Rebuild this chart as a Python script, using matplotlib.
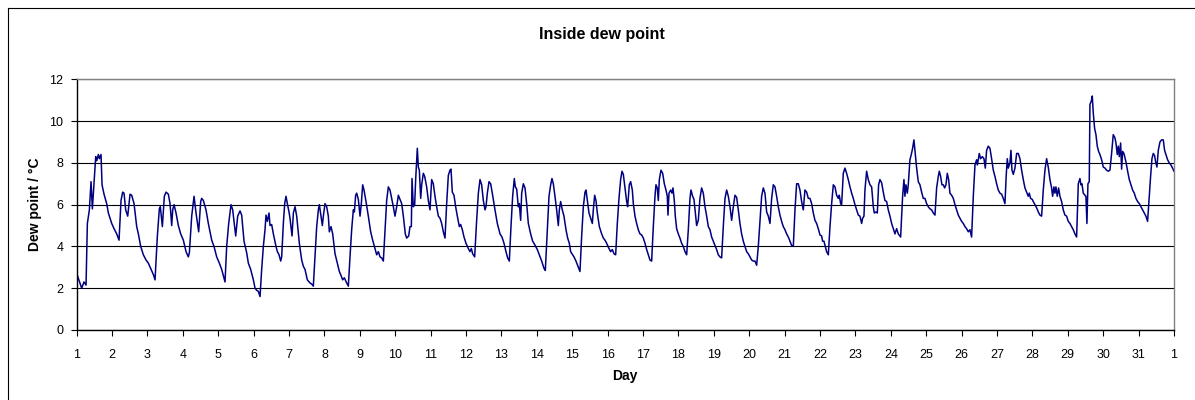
import matplotlib
matplotlib.use('Agg')
import matplotlib.pyplot as plt
from matplotlib.lines import Line2D

plt.rcParams['font.family'] = ['Liberation Sans', 'DejaVu Sans']

# elapsed time in days since the start of day 1
elapsed = [
    # days 1-5
    0.000,0.141,0.207,0.264,0.282,0.301,0.358,0.405,0.443,0.537,
    0.565,0.612,0.640,0.687,0.716,0.772,0.847,0.895,0.989,1.055,
    1.130,1.196,1.252,1.299,1.337,1.384,1.441,1.507,1.554,1.620,
    1.695,1.742,1.808,1.883,1.959,2.024,2.090,2.166,2.213,2.279,
    2.335,2.363,2.420,2.476,2.524,2.589,2.637,2.684,2.712,2.750,
    2.806,2.872,2.938,3.013,3.089,3.154,3.183,3.249,3.315,3.371,
    3.446,3.503,3.531,3.578,3.653,3.719,3.814,3.879,3.955,4.030,
    4.096,4.190,4.237,4.294,4.360,4.407,4.492,4.548,4.614,4.661,
    4.727,4.802,4.849,4.915,4.991,
    # days 6-10
    5.038,5.085,5.132,5.179,5.226,5.273,5.320,5.348,5.386,5.433,
    5.461,5.508,5.556,5.631,5.669,5.716,5.763,5.791,5.838,5.876,
    5.913,5.951,5.998,6.026,6.083,6.121,6.168,6.215,6.290,6.356,
    6.403,6.450,6.516,6.591,6.638,6.685,6.733,6.780,6.827,6.855,
    6.902,6.940,6.968,7.015,7.062,7.109,7.137,7.185,7.232,7.298,
    7.363,7.420,7.458,7.514,7.561,7.627,7.674,7.721,7.768,7.815,
    7.844,7.881,7.910,7.957,8.004,8.041,8.079,8.117,8.173,8.239,
    8.305,8.362,8.427,8.475,8.522,8.569,8.616,8.663,8.710,8.757,
    8.804,8.851,8.898,8.945,8.992,9.040,9.087,9.134,9.181,9.228,
    9.284,9.322,9.379,9.416,9.454,9.473,9.510,9.548,9.576,9.623,
    9.652,9.680,9.718,9.746,9.793,9.831,9.887,9.934,9.981,10.028,
    10.075,10.122,10.169,10.217,
    # days 11-15
    10.264,10.311,10.358,10.405,10.452,10.499,10.546,10.574,10.612,10.659,
    10.706,10.753,10.810,10.847,10.895,10.942,10.998,11.064,11.111,11.149,
    11.186,11.243,11.299,11.347,11.394,11.441,11.488,11.535,11.563,11.601,
    11.648,11.695,11.751,11.817,11.883,11.959,12.015,12.072,12.128,12.175,
    12.222,12.269,12.316,12.363,12.392,12.429,12.476,12.505,12.542,12.571,
    12.618,12.665,12.712,12.759,12.825,12.881,12.919,12.966,13.013,13.070,
    13.136,13.202,13.239,13.296,13.343,13.390,13.427,13.465,13.512,13.559,
    13.606,13.635,13.672,13.719,13.766,13.823,13.870,13.917,13.955,14.011,
    14.049,14.105,14.162,14.218,14.266,14.313,14.360,14.388,14.426,14.473,
    14.520,14.567,14.595,14.633,14.670,14.708,14.765,14.831,14.878,14.925,
    14.972,15.038,15.085,15.132,15.179,15.226,15.273,15.320,15.367,15.405,
    15.443,15.490,15.537,15.565,15.612,15.650,15.697,
    # days 16-21
    15.725,15.772,15.819,15.866,15.913,15.960,16.008,16.055,16.102,16.149,
    16.196,16.243,16.290,16.337,16.365,16.403,16.431,16.460,16.507,16.554,
    16.601,16.648,16.685,16.704,16.733,16.780,16.817,16.846,16.883,16.911,
    16.949,16.996,17.043,17.090,17.137,17.185,17.232,17.279,17.326,17.354,
    17.401,17.439,17.486,17.514,17.561,17.608,17.655,17.702,17.750,17.797,
    17.844,17.891,17.938,17.985,18.032,18.079,18.126,18.173,18.220,18.267,
    18.315,18.362,18.409,18.456,18.503,18.550,18.597,18.644,18.691,18.738,
    18.785,18.832,18.879,18.927,18.974,19.021,19.068,19.115,19.162,19.209,
    19.256,19.303,19.350,19.397,19.444,19.492,19.539,19.586,19.633,19.680,
    19.727,19.774,19.821,19.868,19.915,19.962,20.009,20.056,20.104,20.151,
    20.198,20.245,20.292,20.339,20.386,20.433,20.480,20.527,20.574,20.621,
    20.669,20.716,20.763,20.810,20.857,20.904,20.951,
    # days 22-26
    20.998,21.045,21.073,21.111,21.149,21.186,21.234,21.281,21.328,21.375,
    21.422,21.469,21.516,21.544,21.582,21.610,21.657,21.704,21.751,21.798,
    21.846,21.893,21.940,21.987,22.034,22.081,22.128,22.175,22.203,22.241,
    22.269,22.316,22.363,22.411,22.458,22.505,22.533,22.580,22.618,22.655,
    22.693,22.740,22.787,22.834,22.881,22.928,22.976,23.023,23.070,23.117,
    23.164,23.211,23.277,23.333,23.371,23.399,23.427,23.465,23.493,23.540,
    23.578,23.616,23.653,23.691,23.729,23.776,23.823,23.870,23.917,23.964,
    24.011,24.058,24.105,24.153,24.200,24.247,24.294,24.341,24.369,24.407,
    24.444,24.482,24.520,24.557,24.595,24.633,24.670,24.718,24.765,24.812,
    24.859,24.906,24.953,25.000,25.047,25.094,25.141,25.188,25.235,25.282,
    25.330,25.377,25.424,25.443,25.471,25.499,25.537,25.584,25.631,25.669,
    25.706,25.753,25.800,25.847,25.895,25.942,25.989,26.036,26.083,26.130,
    26.177,26.224,
    # days 27-31
    26.260,26.290,26.318,26.365,26.394,26.422,26.460,26.507,26.554,26.601,
    26.648,26.695,26.742,26.789,26.836,26.883,26.911,26.949,26.996,27.024,
    27.072,27.119,27.166,27.213,27.260,27.307,27.354,27.401,27.448,27.495,
    27.542,27.571,27.608,27.637,27.665,27.702,27.740,27.778,27.825,27.872,
    27.919,27.966,28.013,28.060,28.107,28.154,28.202,28.249,28.296,28.343,
    28.371,28.399,28.437,28.484,28.512,28.540,28.569,28.606,28.625,28.663,
    28.691,28.719,28.757,28.795,28.832,28.870,28.908,28.955,29.002,29.049,
    29.096,29.143,29.190,29.237,29.284,29.331,29.360,29.397,29.426,29.454,
    29.492,29.520,29.548,29.586,29.642,29.690,29.737,29.784,29.831,29.878,
    29.925,29.972,30.019,30.066,30.113,30.160,30.207,30.254,30.301,30.339,
    30.377,30.414,30.452,30.480,30.518,30.556,30.603,30.650,30.697,30.734,
    30.772,30.819,30.866,30.913,30.960,30.998,
]

# inside dew point, deg C
dew = [
    # days 1-5
    2.7,2.0,2.3,2.15,3.5,5.1,5.75,7.1,5.8,8.3,
    8.1,8.4,8.2,8.4,6.95,6.5,6.05,5.6,5.1,4.85,
    4.6,4.3,6.2,6.6,6.55,5.75,5.45,6.5,6.45,6.05,
    4.95,4.6,4.0,3.6,3.35,3.2,2.95,2.65,2.4,4.5,
    5.8,5.9,4.95,6.4,6.6,6.5,6.05,5.0,5.75,6.0,
    5.6,5.0,4.6,4.3,3.75,3.5,3.7,5.45,6.4,5.6,
    4.7,6.15,6.3,6.2,5.75,5.1,4.3,4.0,3.5,3.2,
    2.9,2.3,4.0,5.1,6.0,5.75,4.5,5.45,5.7,5.5,
    4.25,3.7,3.2,2.9,2.4,
    # days 6-10
    2.0,1.9,1.85,1.6,2.9,4.0,4.8,5.5,5.2,5.6,
    5.0,5.05,4.6,4.0,3.75,3.6,3.3,3.5,5.1,6.05,
    6.4,6.05,5.65,5.35,4.5,5.6,5.9,5.45,4.15,3.35,
    3.05,2.9,2.4,2.25,2.2,2.1,3.5,4.95,5.75,6.0,
    5.45,5.0,5.45,6.05,5.9,5.45,4.7,4.95,4.6,3.65,
    3.2,2.8,2.65,2.4,2.5,2.25,2.1,3.5,4.8,5.75,
    5.65,6.45,6.55,6.25,5.45,6.05,6.95,6.7,6.15,5.45,
    4.7,4.3,3.9,3.6,3.75,3.5,3.45,3.3,4.8,6.2,
    6.85,6.7,6.3,5.9,5.45,5.9,6.45,6.25,6.05,5.45,
    4.6,4.4,4.5,4.95,4.95,7.25,5.9,6.0,7.2,8.7,
    7.8,7.65,6.3,6.95,7.5,7.35,6.85,6.2,5.75,7.2,
    7.0,6.4,5.9,5.45,
    # days 11-15
    5.35,5.1,4.7,4.4,6.05,7.4,7.65,7.7,6.6,6.45,
    5.9,5.45,4.95,5.05,4.8,4.45,4.15,3.9,3.75,3.9,
    3.65,3.5,5.25,6.55,7.2,6.95,6.2,5.75,5.9,6.55,
    7.1,7.0,6.45,5.75,5.1,4.6,4.45,4.15,3.75,3.45,
    3.3,4.95,6.4,7.25,6.85,6.75,5.9,6.05,5.25,6.55,
    7.0,6.8,6.05,5.1,4.6,4.25,4.15,4.0,3.85,3.6,
    3.3,2.95,2.85,4.8,6.4,6.95,7.25,7.0,6.4,5.75,
    5.0,5.75,6.15,5.75,5.45,4.8,4.4,4.15,3.75,3.6,
    3.5,3.3,3.05,2.8,4.5,5.9,6.6,6.7,6.2,5.6,
    5.35,5.1,5.75,6.45,6.2,5.6,4.95,4.6,4.4,4.3,
    4.15,3.9,3.75,3.85,3.65,3.6,5.1,6.3,7.2,7.6,
    7.45,6.8,6.15,5.9,6.95,7.1,6.7,
    # days 16-21
    6.05,5.45,5.1,4.8,4.6,4.55,4.4,4.15,3.85,3.6,
    3.35,3.3,4.95,6.4,6.95,6.8,6.2,7.2,7.65,7.5,
    7.0,6.7,6.4,5.5,6.55,6.7,6.55,6.8,6.2,5.45,
    4.85,4.6,4.4,4.15,4.0,3.75,3.6,4.8,6.3,6.7,
    6.4,6.25,5.45,5.0,5.25,6.3,6.8,6.55,5.9,5.45,
    4.95,4.8,4.45,4.25,4.05,3.85,3.6,3.5,3.45,4.95,
    6.3,6.7,6.4,5.9,5.25,5.9,6.45,6.35,5.75,5.1,
    4.6,4.25,4.0,3.75,3.65,3.5,3.35,3.3,3.3,3.1,
    4.0,5.2,6.4,6.8,6.55,5.65,5.45,5.1,6.3,6.95,
    6.85,6.4,5.9,5.5,5.2,4.95,4.8,4.6,4.45,4.25,
    4.05,4.0,5.75,7.0,7.0,6.7,6.15,5.75,6.7,6.6,
    6.3,6.3,6.05,5.6,5.25,5.1,4.85,
    # days 22-26
    4.55,4.5,4.25,4.25,4.0,3.75,3.6,4.95,6.05,6.95,
    6.85,6.45,6.3,6.45,6.05,6.0,7.5,7.75,7.5,7.2,
    6.85,6.55,6.3,6.0,5.75,5.5,5.45,5.1,5.35,5.45,
    6.7,7.6,7.2,6.95,6.85,5.9,5.6,5.65,5.6,6.95,
    7.2,7.05,6.6,6.2,6.15,5.75,5.45,5.1,4.85,4.6,
    4.85,4.6,4.45,6.4,7.2,6.4,6.95,6.55,6.95,8.15,
    8.4,8.7,9.1,8.45,7.75,7.1,6.95,6.6,6.3,6.3,
    6.05,5.9,5.8,5.75,5.6,5.5,6.8,7.35,7.6,7.35,
    6.95,6.95,6.8,6.95,7.5,7.2,6.55,6.45,6.3,6.0,
    5.75,5.5,5.35,5.2,5.1,4.95,4.85,4.7,4.8,4.45,
    6.4,7.9,8.15,7.9,8.15,8.45,8.2,8.3,8.2,7.75,
    8.6,8.8,8.7,8.2,7.65,7.35,7.0,6.7,6.55,6.5,
    6.3,6.05,
    # days 27-31
    7.4,8.2,7.75,8.0,8.6,7.65,7.45,7.75,8.45,8.45,
    8.2,7.65,7.2,6.8,6.6,6.4,6.55,6.3,6.25,6.15,
    6.0,5.85,5.65,5.5,5.45,6.7,7.65,8.2,7.8,7.2,
    6.8,6.4,6.85,6.55,6.85,6.4,6.8,6.4,6.15,5.75,
    5.5,5.45,5.2,5.1,4.95,4.8,4.6,4.45,7.0,7.25,
    6.95,7.0,6.55,6.45,6.4,5.1,7.0,7.1,10.8,10.95,
    11.2,10.4,9.65,9.35,8.8,8.55,8.4,8.15,7.8,7.75,
    7.65,7.6,7.65,8.45,9.35,9.2,8.95,8.4,8.8,8.3,
    8.95,7.7,8.55,8.45,8.05,7.6,7.2,6.95,6.7,6.55,
    6.3,6.15,6.05,5.9,5.75,5.6,5.45,5.2,6.4,7.35,
    8.2,8.45,8.35,8.05,7.8,8.6,9.0,9.1,9.1,8.6,
    8.4,8.15,8.0,7.9,7.75,7.6,
]

day_labels = [str(d) for d in range(1, 32)] + ['1']
y_ticks = [0, 2, 4, 6, 8, 10, 12]

W, H = 1195, 400
fig = plt.figure(figsize=(W / 100, H / 100), dpi=100)
ax = fig.add_axes([76.7 / W, 1 - 330 / H, (1174 - 76.7) / W, (330 - 79.3) / H])

ax.plot(elapsed, dew, color='#000080', lw=1.1)

ax.set_xlim(0, 31)
ax.set_ylim(0, 12)
ax.set_xticks(range(len(day_labels)))
ax.set_xticklabels(day_labels)
ax.set_yticks(y_ticks)
ax.yaxis.grid(True, color='black', lw=0.8)
ax.set_axisbelow(True)

for side in ['top', 'right']:
    ax.spines[side].set_color('#808080')
    ax.spines[side].set_linewidth(1.0)
for side in ['left', 'bottom']:
    ax.spines[side].set_color('black')
    ax.spines[side].set_linewidth(1.0)

ax.tick_params(axis='x', direction='out', length=4, width=0.8, pad=10, labelsize=9)
ax.tick_params(axis='y', direction='out', length=4, width=0.8, pad=5.5, labelsize=9)

fig.text(602 / W, 1 - 35 / H, 'Inside dew point', ha='center', va='center',
         fontsize=11.5, fontweight='bold')
fig.text(35 / W, 1 - 204 / H, 'Dew point / \u00b0C', ha='center', va='center',
         rotation=90, fontsize=10, fontweight='bold')
fig.text(625 / W, 1 - 376 / H, 'Day', ha='center', va='center',
         fontsize=10, fontweight='bold')

# outer chart border (left and top edges are inside the picture)
fig.add_artist(Line2D([7.5 / W, 7.5 / W], [0, 1 - 7.5 / H], transform=fig.transFigure,
                      color='black', lw=0.8))
fig.add_artist(Line2D([7.5 / W, 1], [1 - 7.5 / H, 1 - 7.5 / H], transform=fig.transFigure,
                      color='black', lw=0.8))

fig.savefig('out.png', dpi=100)
